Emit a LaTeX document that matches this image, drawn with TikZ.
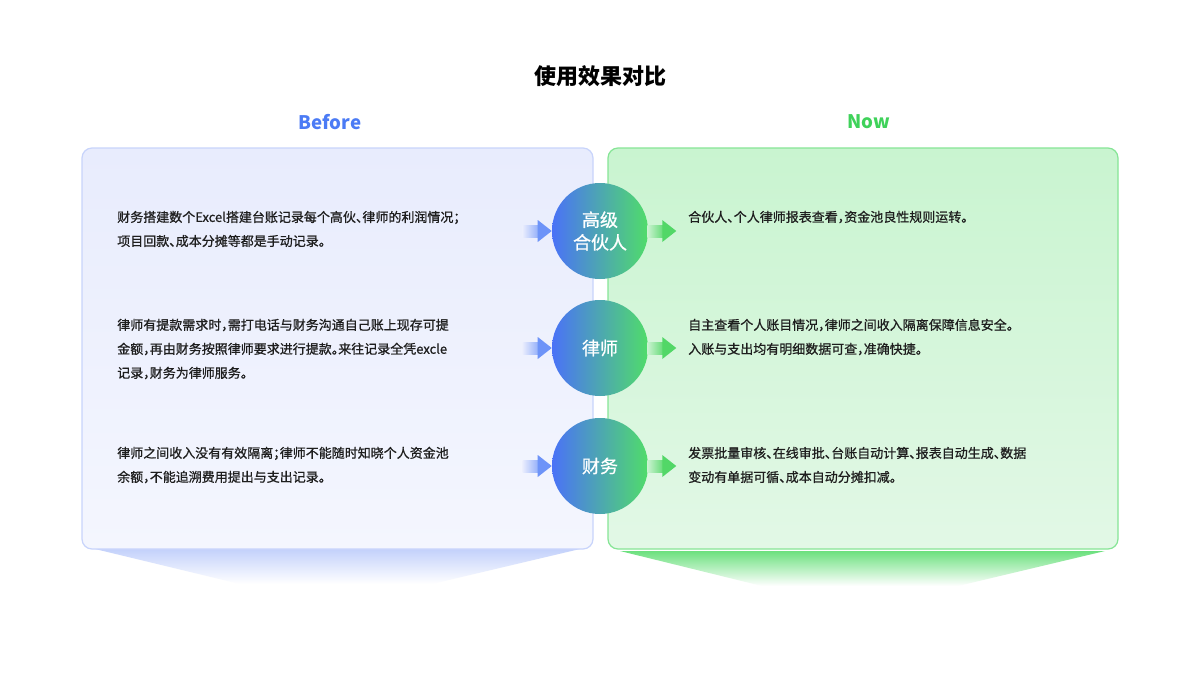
\documentclass[tikz,border=0pt]{standalone}
\usepackage{fontspec}
\setmainfont{Noto Sans CJK SC}
\newfontfamily\bodyfont{Noto Sans CJK SC}[FakeBold=0.8]
\usetikzlibrary{calc}
\definecolor{blueT}{HTML}{4B7BF5}
\definecolor{greenT}{HTML}{3FD25A}
\definecolor{lbTop}{HTML}{E8ECFD}
\definecolor{lbBot}{HTML}{F4F6FE}
\definecolor{lbBorder}{HTML}{C8D4FB}
\definecolor{rbTop}{HTML}{C9F4D0}
\definecolor{rbBot}{HTML}{E2F8E6}
\definecolor{rbBorder}{HTML}{86E596}
\definecolor{cBlue}{HTML}{4A72F7}
\definecolor{cGreen}{HTML}{50DC6A}
\definecolor{trBlue}{HTML}{C3D1FB}
\definecolor{trGreen}{HTML}{6CE07E}
\definecolor{arBlue}{HTML}{6D93F8}
\definecolor{arGreen}{HTML}{52D767}
\definecolor{txt}{HTML}{1E1E1E}
\newcommand\hp[1]{\makebox[0.5em][l]{#1}}
\tikzset{
  circ/.style={circle, minimum size=72pt, inner sep=0pt, left color=cBlue, right color=cGreen,
    text=white, align=center, font=\bodyfont\fontsize{13.5pt}{17pt}\selectfont},
  body/.style={anchor=west, inner sep=0pt, align=left, text=txt,
    font=\bodyfont\fontsize{9.75pt}{18pt}\selectfont},
  head/.style={font=\fontsize{14pt}{16pt}\selectfont\bfseries},
}
\newcommand\larr[1]{%
  \shade[left color=lbTop, right color=arBlue!75] ($(#1.west)+(-29,-6)$) rectangle ($(#1.west)+(-13,6)$);
  \fill[arBlue] ($(#1.west)+(-14,-11)$) -- ($(#1.west)+(0,0)$) -- ($(#1.west)+(-14,11)$) -- cycle;}
\newcommand\rarr[1]{%
  \shade[left color=arGreen!30, right color=arGreen!90] ($(#1.east)+(-1,-6)$) rectangle ($(#1.east)+(15,6)$);
  \fill[arGreen] ($(#1.east)+(14,-11)$) -- ($(#1.east)+(28,0)$) -- ($(#1.east)+(14,11)$) -- cycle;}
\begin{document}
\begin{tikzpicture}[x=0.75pt,y=-0.75pt]
\useasboundingbox (0,0) rectangle (1200,675);
\fill[white] (0,0) rectangle (1200,675);

\node[font=\fontsize{16.5pt}{18pt}\selectfont\bfseries, text=black] (title) at (600,76) {使用效果对比};
\node[head, text=blueT] (before) at (330,122) {Before};
\node[head, text=greenT] (now) at (869,122) {Now};

% left panel
\shade[top color=trBlue, bottom color=white] (95,549) -- (580,549) -- (432,584) -- (240,584) -- cycle;
\shade[rounded corners=7.5pt, top color=lbTop, bottom color=lbBot] (82,148) rectangle (593,549);
\draw[lbBorder, line width=0.9pt, rounded corners=7.5pt] (82,148) rectangle (593,549);

% right panel
\shade[top color=trGreen, bottom color=white] (620,551) -- (1105,551) -- (958,586) -- (762,586) -- cycle;
\shade[rounded corners=7.5pt, top color=rbTop, bottom color=rbBot] (608,148) rectangle (1118,549);
\draw[rbBorder, line width=0.9pt, rounded corners=7.5pt] (608,148) rectangle (1118,549);

% circles
\node[circ] (c1) at (600,231) {高级\\合伙人};
\node[circ] (c2) at (600,348) {律师};
\node[circ] (c3) at (600,466) {财务};

\larr{c1}\larr{c2}\larr{c3}
\rarr{c1}\rarr{c2}\rarr{c3}

% left texts
\node[body] (l1) at (117,229) {财务搭建数个Excel搭建台账记录每个高伙\hp{、}律师的利润情况\hp{；}\\项目回款\hp{、}成本分摊等都是手动记录。};
\node[body] (l2) at (117,349) {律师有提款需求时\hp{，}需打电话与财务沟通自己账上现存可提\\金额\hp{，}再由财务按照律师要求进行提款\hp{。}来往记录全凭excle\\记录\hp{，}财务为律师服务。};
\node[body] (l3) at (117,465) {律师之间收入没有有效隔离\hp{；}律师不能随时知晓个人资金池\\余额\hp{，}不能追溯费用提出与支出记录。};

% right texts
\node[body] (r1) at (688,217) {合伙人\hp{、}个人律师报表查看\hp{，}资金池良性规则运转。};
\node[body] (r2) at (688,337) {自主查看个人账目情况\hp{，}律师之间收入隔离保障信息安全。\\入账与支出均有明细数据可查\hp{，}准确快捷。};
\node[body] (r3) at (688,465) {发票批量审核\hp{、}在线审批\hp{、}台账自动计算\hp{、}报表自动生成\hp{、}数据\\变动有单据可循\hp{、}成本自动分摊扣减。};
\end{tikzpicture}
\end{document}
